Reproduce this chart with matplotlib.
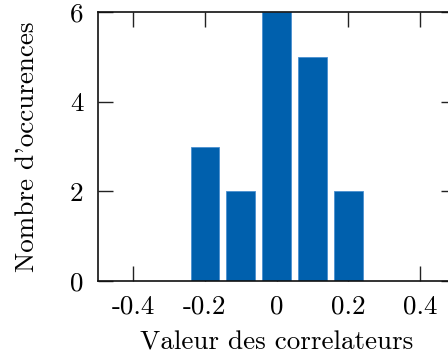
import matplotlib
matplotlib.use("Agg")
import matplotlib.pyplot as plt
from matplotlib.ticker import FixedLocator, FixedFormatter

plt.rcParams['font.family'] = ['cmr10', 'DejaVu Serif']
plt.rcParams['axes.unicode_minus'] = False
plt.rcParams['mathtext.fontset'] = 'cm'

centers = [-0.2, -0.1, 0.0, 0.1, 0.2]
counts = [3, 2, 6, 5, 2]
xticks = [-0.4, -0.2, 0.0, 0.2, 0.4]
xticklabels = ["-0.4", "-0.2", "0", "0.2", "0.4"]
yticks = [0, 2, 4, 6]
yticklabels = ["0", "2", "4", "6"]

fig = plt.figure(figsize=(4.48, 3.56), dpi=100)
ax = fig.add_axes([97.5/448, 75/356, 358.3/448, 269/356])

ax.bar(centers, counts, width=0.08, color='#0060ad', edgecolor='#4a8fd0',
       linewidth=0.6, zorder=2)

ax.set_xlim(-0.5, 0.5)
ax.set_ylim(0, 6)
ax.xaxis.set_major_locator(FixedLocator(xticks))
ax.xaxis.set_major_formatter(FixedFormatter(xticklabels))
ax.yaxis.set_major_locator(FixedLocator(yticks))
ax.yaxis.set_major_formatter(FixedFormatter(yticklabels))

ax.tick_params(axis='both', direction='in', length=10.5, width=1.0,
               top=True, right=True, labelsize=19.5, color='#222222')
ax.tick_params(axis='x', pad=10)
ax.tick_params(axis='y', pad=10)
for s in ax.spines.values():
    s.set_linewidth(1.2)
    s.set_color('#111111')
    s.set_zorder(3)

ax.set_xlabel("Valeur des correlateurs", fontsize=19.5, labelpad=9)
ax.set_ylabel("Nombre d'occurences", fontsize=19.5, labelpad=22)

fig.savefig("out.png", dpi=100)
